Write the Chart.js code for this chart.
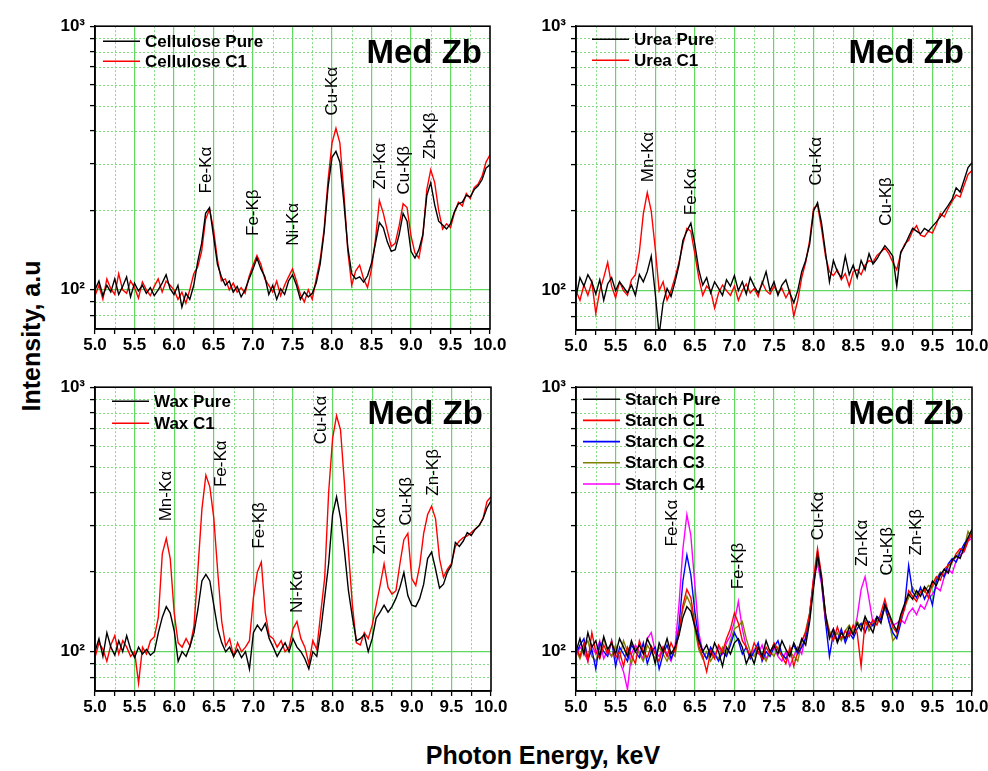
<!DOCTYPE html>
<html>
<head>
<meta charset="utf-8">
<script src="https://cdn.jsdelivr.net/npm/chart.js@4.4.1/dist/chart.umd.min.js"></script>
<style>
html,body{margin:0;padding:0;background:#fff;overflow:hidden;width:988px;height:771px;}
canvas{position:absolute;}
.title{position:absolute;font-family:'Liberation Sans',Arial,Helvetica,sans-serif;font-weight:bold;color:#000;white-space:nowrap;}
#ytitle{left:31px;top:336px;font-size:25px;transform:translate(-50%,-50%) rotate(-90deg);}
#xtitle{left:543px;top:755px;font-size:25px;transform:translate(-50%,-50%);}
</style>
</head>
<body>
<div id="ytitle" class="title">Intensity, a.u</div>
<div id="xtitle" class="title">Photon Energy, keV</div>
<canvas id="cTL"></canvas>
<canvas id="cTR"></canvas>
<canvas id="cBL"></canvas>
<canvas id="cBR"></canvas>
<script>
// ---------------- DATA ----------------
const energy = [
 5.00,5.05,5.10,5.15,5.20,5.25,5.30,5.35,5.40,5.45,
 5.50,5.55,5.60,5.65,5.70,5.75,5.80,5.85,5.90,5.95,
 6.00,6.05,6.10,6.15,6.20,6.25,6.30,6.35,6.40,6.45,
 6.50,6.55,6.60,6.65,6.70,6.75,6.80,6.85,6.90,6.95,
 7.00,7.05,7.10,7.15,7.20,7.25,7.30,7.35,7.40,7.45,
 7.50,7.55,7.60,7.65,7.70,7.75,7.80,7.85,7.90,7.95,
 8.00,8.05,8.10,8.15,8.20,8.25,8.30,8.35,8.40,8.45,
 8.50,8.55,8.60,8.65,8.70,8.75,8.80,8.85,8.90,8.95,
 9.00,9.05,9.10,9.15,9.20,9.25,9.30,9.35,9.40,9.45,
 9.50,9.55,9.60,9.65,9.70,9.75,9.80,9.85,9.90,9.95,
 10.00];

const cellulosePure = [
 100,108,95,104,98,110,96,103,112,94,
 106,99,104,97,102,95,100,106,114,101,
 96,104,86,97,92,104,128,150,195,205,
 160,125,112,104,108,98,103,94,100,110,
 120,132,120,112,96,104,92,101,96,108,
 114,104,92,98,94,97,106,125,165,245,
 318,335,305,215,145,115,110,112,107,113,
 126,150,180,172,152,140,142,162,195,182,
 140,132,142,162,228,255,210,182,176,170,
 178,198,212,215,228,225,240,248,262,290,
 298];
const celluloseC1 = [
 95,104,92,110,101,96,115,100,97,108,
 102,93,107,100,95,103,110,98,108,104,
 100,92,98,89,100,115,122,140,185,202,
 170,130,108,110,100,106,98,102,97,112,
 124,135,125,110,104,98,108,95,104,112,
 120,108,96,90,100,92,110,130,170,260,
 360,410,360,235,140,104,118,124,110,102,
 120,155,218,195,168,146,150,175,212,205,
 160,138,132,160,240,285,255,200,170,178,
 172,196,215,208,232,222,244,252,270,305,
 325];

const ureaPure = [
 95,112,104,115,108,97,110,92,106,112,
 100,108,103,98,105,96,115,108,118,135,
 98,68,90,102,95,108,125,155,168,180,
 150,120,105,112,98,108,102,96,110,104,
 114,100,108,97,112,104,98,106,118,100,
 108,96,105,110,98,90,100,118,130,150,
 200,215,180,140,108,130,118,112,135,115,
 125,112,130,120,138,126,132,140,148,142,
 135,104,140,148,160,172,168,164,172,168,
 175,182,190,200,210,222,245,236,262,292,
 305];
const ureaC1 = [
 100,92,105,96,108,82,100,112,128,104,
 94,108,100,96,110,115,140,195,235,200,
 145,100,108,92,100,112,128,150,172,168,
 138,112,96,104,100,86,98,105,100,96,
 104,92,100,106,98,102,95,108,100,97,
 104,98,102,94,100,80,92,112,128,155,
 205,210,172,135,118,114,120,110,116,104,
 118,120,115,125,130,128,136,140,145,138,
 128,120,138,150,155,168,176,162,160,168,
 165,178,196,190,205,218,230,226,250,275,
 285];

const waxPure = [
 100,112,96,118,104,97,110,100,115,102,
 95,104,98,102,97,100,118,135,148,140,
 120,92,100,96,105,118,145,185,196,185,
 150,122,108,100,104,96,102,95,100,86,
 118,126,120,128,112,104,96,102,108,100,
 112,104,100,94,86,100,96,120,160,215,
 330,385,320,240,170,135,110,112,116,100,
 112,134,141,150,141,148,159,175,199,163,
 150,148,159,180,225,238,205,174,180,200,
 212,259,250,262,282,275,290,300,318,350,
 372];
const waxC1 = [
 95,108,102,92,106,115,98,110,104,96,
 100,76,104,98,110,114,135,235,268,225,
 140,108,104,112,105,125,206,346,465,420,
 320,200,130,105,112,96,108,100,104,110,
 160,200,218,140,115,112,104,110,100,104,
 122,130,112,104,90,110,102,140,190,400,
 640,780,690,430,240,150,108,106,118,112,
 126,150,178,215,175,165,170,215,265,280,
 189,178,212,280,330,355,318,225,191,205,
 215,250,262,270,274,282,291,300,320,370,
 385];

const starchPure = [
 100,112,98,118,104,110,96,114,102,108,
 98,112,104,96,110,100,106,98,112,104,
 90,108,100,112,98,104,115,135,148,142,
 125,110,100,106,96,108,100,88,104,98,
 108,112,104,90,98,90,104,96,110,100,
 106,98,110,102,96,108,100,112,106,130,
 175,232,190,140,112,122,108,118,112,124,
 116,128,120,136,126,118,135,128,150,140,
 128,120,138,152,165,158,170,162,176,168,
 185,178,195,205,198,222,230,225,248,270,
 290];
const starchC1 = [
 104,96,108,92,118,100,94,106,98,110,
 95,100,88,104,97,90,110,100,95,105,
 98,92,104,96,108,100,118,150,172,160,
 128,105,96,84,100,94,106,100,112,122,
 140,128,110,104,96,108,100,94,104,98,
 108,102,96,90,104,88,100,110,118,138,
 190,245,195,135,118,110,124,112,120,114,
 126,118,88,130,124,132,126,140,158,138,
 124,118,132,145,170,162,155,168,172,160,
 180,192,186,205,212,218,235,245,240,262,
 280];
const starchC2 = [
 98,106,112,94,102,86,108,100,96,110,
 88,104,98,92,106,100,95,108,90,100,
 104,86,98,106,94,102,125,185,232,195,
 142,112,100,94,104,98,92,100,96,106,
 118,110,98,104,94,100,108,92,100,96,
 104,110,98,94,100,106,98,104,112,135,
 180,238,185,130,96,118,110,122,108,118,
 112,122,128,118,130,125,136,132,152,130,
 118,112,128,150,212,168,160,175,158,170,
 150,185,198,192,215,225,218,238,255,268,
 275];
const starchC3 = [
 102,94,104,110,96,92,104,112,100,96,
 106,94,110,100,90,104,98,92,106,100,
 94,104,98,92,100,96,120,145,162,150,
 122,102,94,100,92,98,94,104,98,110,
 122,125,130,112,100,96,104,98,92,100,
 96,104,98,94,100,96,92,108,120,140,
 185,228,190,138,120,112,118,110,120,126,
 118,130,124,132,120,128,130,136,145,132,
 110,115,135,148,160,175,165,172,168,178,
 175,188,200,195,210,220,228,240,245,285,
 270];
const starchC4 = [
 96,104,100,92,106,98,110,94,102,96,
 104,92,84,72,98,106,100,94,112,118,
 100,96,104,98,92,104,150,245,330,275,
 180,118,100,94,102,96,104,98,108,115,
 130,155,122,104,96,102,98,106,94,100,
 104,96,92,100,88,96,104,98,115,140,
 190,215,180,132,115,122,110,118,112,120,
 116,135,172,192,158,128,135,130,150,138,
 126,128,132,128,140,146,138,150,145,158,
 165,175,170,192,205,198,220,232,238,262,
 268];

// axis tick values / labels
const xMinorGrid = [5.25,5.75,6.25,6.75,7.25,7.75,8.25,8.75,9.25,9.75];
const yTickValues = [80,90,100,200,300,400,500,600,700,800,900,1000];
const yMinorGrid = [80,90,200,300,400,500,600,700,800,900];
const yTickLabels = {100:'10\u00B2', 1000:'10\u00B3'};

// peak annotations (energy keV, intensity at label start)
const cellulosePeaks = [
 {t:'Fe-K\u03B1', x:6.41, y:232},{t:'Fe-K\u03B2', x:7.01, y:160},{t:'Ni-K\u03B1', x:7.51, y:147},
 {t:'Cu-K\u03B1', x:8.00, y:458},{t:'Zn-K\u03B1', x:8.61, y:240},{t:'Cu-K\u03B2', x:8.91, y:230},
 {t:'Zb-K\u03B2', x:9.24, y:313}];
const ureaPeaks = [
 {t:'Mn-K\u03B1', x:5.91, y:257},{t:'Fe-K\u03B1', x:6.46, y:193},
 {t:'Cu-K\u03B1', x:8.04, y:250},{t:'Cu-K\u03B2', x:8.92, y:176}];
const waxPeaks = [
 {t:'Mn-K\u03B1', x:5.90, y:311},{t:'Fe-K\u03B1', x:6.60, y:419},{t:'Fe-K\u03B2', x:7.07, y:245},
 {t:'Ni-K\u03B1', x:7.55, y:140},{t:'Cu-K\u03B1', x:7.86, y:608},{t:'Zn-K\u03B1', x:8.60, y:233},
 {t:'Cu-K\u03B2', x:8.93, y:300},{t:'Zn-K\u03B2', x:9.27, y:389}];
const starchPeaks = [
 {t:'Fe-K\u03B1', x:6.22, y:250},{t:'Fe-K\u03B2', x:7.05, y:172},{t:'Cu-K\u03B1', x:8.06, y:264},
 {t:'Zn-K\u03B1', x:8.62, y:210},{t:'Cu-K\u03B2', x:8.93, y:194},{t:'Zn-K\u03B2', x:9.30, y:231}];

// ---------------- STYLE ----------------
const FONT = "'Liberation Sans', Arial, Helvetica, sans-serif";
const GREEN = '#62d862';
const MINOR_GREEN = 'rgba(120,214,120,0.9)';
const BLACK = '#000000', RED = '#ff0000', BLUE = '#0000ff', OLIVE = '#808000', MAGENTA = '#ff00ff';

Chart.defaults.font.family = FONT;
Chart.defaults.color = '#000';

const decor = {
  id: 'decor',
  beforeDatasetsDraw(chart, args, o) {
    const {ctx, chartArea: a, scales: {x, y}} = chart;
    ctx.save();
    ctx.strokeStyle = MINOR_GREEN;
    ctx.lineWidth = 1;
    ctx.setLineDash([2, 2]);
    xMinorGrid.forEach(v => {
      const px = Math.round(x.getPixelForValue(v)) + 0.5;
      ctx.beginPath(); ctx.moveTo(px, a.top); ctx.lineTo(px, a.bottom); ctx.stroke();
    });
    yMinorGrid.forEach(v => {
      const py = Math.round(y.getPixelForValue(v)) + 0.5;
      ctx.beginPath(); ctx.moveTo(a.left, py); ctx.lineTo(a.right, py); ctx.stroke();
    });
    ctx.restore();
  },
  afterDraw(chart, args, o) {
    const {ctx, chartArea: a, scales: {x, y}} = chart;
    ctx.save();
    // frame
    ctx.strokeStyle = '#000'; ctx.lineWidth = 1.6; ctx.setLineDash([]);
    ctx.strokeRect(a.left, a.top, a.right - a.left, a.bottom - a.top);
    // big label
    ctx.fillStyle = '#000';
    ctx.font = 'bold 33px ' + FONT;
    ctx.textAlign = 'right'; ctx.textBaseline = 'middle';
    ctx.fillText('Med Zb', a.right - 8, a.top + 28);
    // legend
    const L = o.legend;
    ctx.font = 'bold 17px ' + FONT;
    ctx.textAlign = 'left';
    chart.data.datasets.forEach((ds, i) => {
      const yy = a.top + L.dy + i * L.gap;
      const x0 = a.left + L.dx;
      ctx.strokeStyle = ds.borderColor; ctx.lineWidth = 1.6;
      ctx.beginPath(); ctx.moveTo(x0, yy); ctx.lineTo(x0 + 37, yy); ctx.stroke();
      ctx.fillStyle = '#000';
      ctx.fillText(ds.label, x0 + 42, yy + 1);
    });
    // peak labels
    ctx.font = '17px ' + FONT;
    ctx.textBaseline = 'middle';
    o.peaks.forEach(p => {
      ctx.save();
      ctx.translate(x.getPixelForValue(p.x), y.getPixelForValue(p.y));
      ctx.rotate(-Math.PI / 2);
      ctx.fillText(p.t, 0, 0);
      ctx.restore();
    });
    ctx.restore();
  }
};

function isMajorX(v) { return Math.abs(v * 2 - Math.round(v * 2)) < 1e-6; }

function makePanel(id, box, series, peaks, legend) {
  const padTop = 12, padRight = 20, yW = 60, xH = 34;
  const cv = document.getElementById(id);
  const w = (box.r - box.l) + yW + padRight;
  const h = (box.b - box.t) + padTop + xH;
  cv.width = w; cv.height = h;
  cv.style.left = (box.l - yW) + 'px';
  cv.style.top = (box.t - padTop) + 'px';
  cv.style.width = w + 'px'; cv.style.height = h + 'px';
  return new Chart(cv, {
    type: 'line',
    data: {
      datasets: series.map(s => ({
        label: s.label,
        data: energy.map((e, i) => ({x: e, y: s.values[i]})),
        borderColor: s.color,
        borderWidth: 1.4,
        pointRadius: 0,
        fill: false,
        tension: 0
      }))
    },
    options: {
      responsive: false,
      animation: false,
      devicePixelRatio: 1,
      layout: {padding: {top: padTop, right: padRight, left: 0, bottom: 0}},
      plugins: {legend: {display: false}, tooltip: {enabled: false}, decor: {peaks, legend}},
      scales: {
        x: {
          type: 'linear', min: 5, max: 10,
          afterFit: s => { s.height = xH; },
          ticks: {
            stepSize: 0.25, autoSkip: false, maxRotation: 0, padding: 1,
            font: {size: 17, weight: 'bold'}, color: '#000',
            callback: v => isMajorX(v) ? Number(v).toFixed(1) : ''
          },
          grid: {
            color: c => (c.tick && isMajorX(c.tick.value) && c.tick.value > 5 && c.tick.value < 10) ? GREEN : 'rgba(0,0,0,0)',
            tickColor: '#000', tickLength: 5, lineWidth: 1.2, tickWidth: 1.3
          },
          border: {display: true, color: '#000', width: 1.6}
        },
        y: {
          type: 'logarithmic', min: 71, max: 1000,
          afterFit: s => { s.width = yW; },
          afterBuildTicks: s => { s.ticks = yTickValues.map(v => ({value: v})); },
          ticks: {
            autoSkip: false, padding: 5,
            font: {size: 17, weight: 'bold'}, color: '#000',
            callback: v => yTickLabels[v] || ''
          },
          grid: {
            color: c => (c.tick && c.tick.value === 100) ? GREEN : 'rgba(0,0,0,0)',
            tickColor: '#000', tickLength: 5, lineWidth: 1.2, tickWidth: 1.3
          },
          border: {display: true, color: '#000', width: 1.6}
        }
      }
    },
    plugins: [decor]
  });
}

makePanel('cTL', {l: 95, t: 23, r: 490, b: 329}, [
  {label: 'Cellulose Pure', values: cellulosePure, color: BLACK},
  {label: 'Cellulose C1', values: celluloseC1, color: RED}
], cellulosePeaks, {dx: 8, dy: 15, gap: 20});

makePanel('cTR', {l: 576, t: 23, r: 972, b: 330}, [
  {label: 'Urea Pure', values: ureaPure, color: BLACK},
  {label: 'Urea C1', values: ureaC1, color: RED}
], ureaPeaks, {dx: 16, dy: 13, gap: 21});

makePanel('cBL', {l: 95, t: 384, r: 491, b: 691}, [
  {label: 'Wax Pure', values: waxPure, color: BLACK},
  {label: 'Wax C1', values: waxC1, color: RED}
], waxPeaks, {dx: 17, dy: 14, gap: 22});

makePanel('cBR', {l: 576, t: 384, r: 972, b: 691}, [
  {label: 'Starch Pure', values: starchPure, color: BLACK},
  {label: 'Starch C1', values: starchC1, color: RED},
  {label: 'Starch C2', values: starchC2, color: BLUE},
  {label: 'Starch C3', values: starchC3, color: OLIVE},
  {label: 'Starch C4', values: starchC4, color: MAGENTA}
], starchPeaks, {dx: 7, dy: 12, gap: 21.2});
</script>
</body>
</html>
